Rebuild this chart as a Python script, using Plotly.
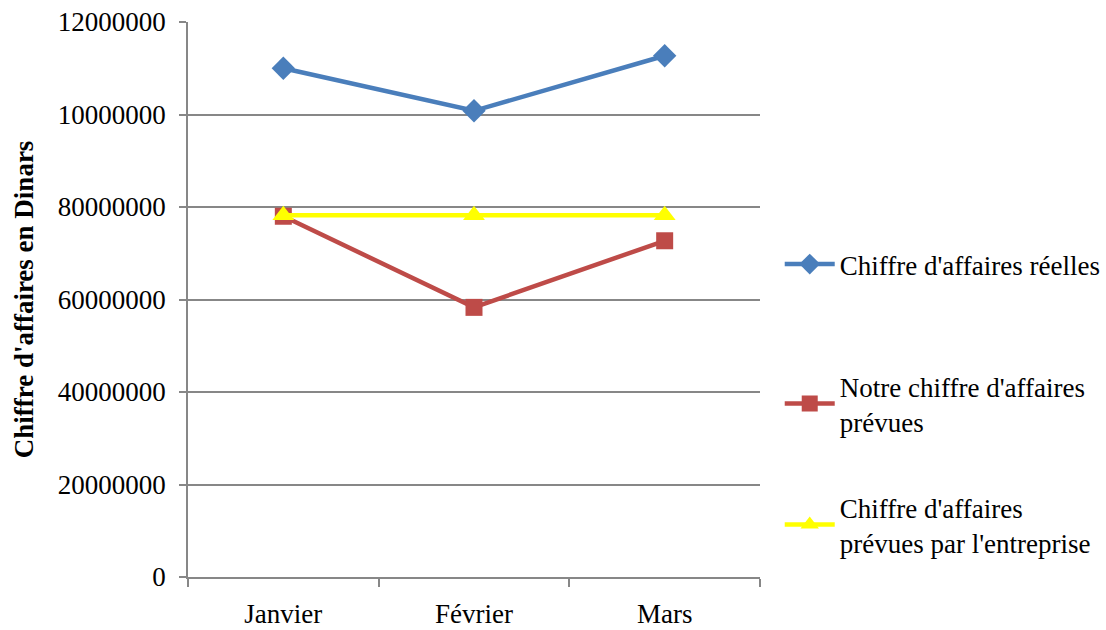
import plotly.graph_objects as go

months = ["Janvier", "Février", "Mars"]
ca_reelles = [110000000, 100800000, 112700000]
ca_prevues_notre = [78000000, 58300000, 72700000]
ca_prevues_entreprise = [78200000, 78200000, 78200000]

y_tickvals = [0, 20000000, 40000000, 60000000, 80000000, 100000000, 120000000]
y_ticktext = ["0", "20000000", "40000000", "60000000", "80000000", "10000000", "12000000"]

FONT = "Liberation Serif, Times New Roman, serif"
FS = 27
GRID = "#878787"

fig = go.Figure()

series = [
    ("Chiffre d'affaires réelles", ca_reelles, "#4A7EBB", "diamond", 18, "legend"),
    ("Notre chiffre d'affaires<br>prévues", ca_prevues_notre, "#BE4B48", "square", 17, "legend2"),
    ("Chiffre d'affaires<br>prévues par l'entreprise", ca_prevues_entreprise, "#FFFF00", "triangle-up", 19, "legend3"),
]

for name, vals, color, sym, size, leg in series:
    fig.add_trace(go.Scatter(
        x=months, y=vals, name=name, mode="lines+markers",
        line=dict(color=color, width=4.5),
        marker=dict(symbol=sym, size=size, color=color, line=dict(width=0)),
        legend=leg, showlegend=True,
    ))

legend_common = dict(
    font=dict(family=FONT, size=FS, color="#000000"),
    bgcolor="rgba(0,0,0,0)", borderwidth=0,
    xref="container", yref="container",
    xanchor="left", yanchor="top",
    itemwidth=50,
)

fig.update_layout(
    width=1106, height=630,
    showlegend=True,
    margin=dict(l=188, r=346, t=22, b=53),
    paper_bgcolor="white", plot_bgcolor="white",
    font=dict(family=FONT, size=FS, color="#000000"),
    legend=dict(x=0.705, y=1 - 240 / 630, **legend_common),
    legend2=dict(x=0.705, y=1 - 362 / 630, **legend_common),
    legend3=dict(x=0.705, y=1 - 483 / 630, **legend_common),
    xaxis=dict(
        type="category", range=[-0.5, 2.5], automargin=False,
        showgrid=False, showline=True, linecolor=GRID, linewidth=1.5,
        ticks="outside", tickson="boundaries", ticklen=8, tickcolor=GRID, tickwidth=1.5,
        tickfont=dict(family=FONT, size=FS, color="#000000"),
        ticklabelstandoff=12,
    ),
    yaxis=dict(
        range=[0, 120000000], automargin=False,
        tickvals=y_tickvals, ticktext=y_ticktext,
        showgrid=True, gridcolor=GRID, gridwidth=1.5,
        showline=True, linecolor=GRID, linewidth=1.5,
        ticks="outside", ticklen=7, tickcolor=GRID, tickwidth=1.5,
        tickfont=dict(family=FONT, size=FS, color="#000000"),
        ticklabelstandoff=8,
        zeroline=False,
        title=dict(text="<b>Chiffre d'affaires en Dinars</b>",
                   font=dict(family=FONT, size=FS, color="#000000"), standoff=16),
    ),
)

fig.write_html("out.html")
